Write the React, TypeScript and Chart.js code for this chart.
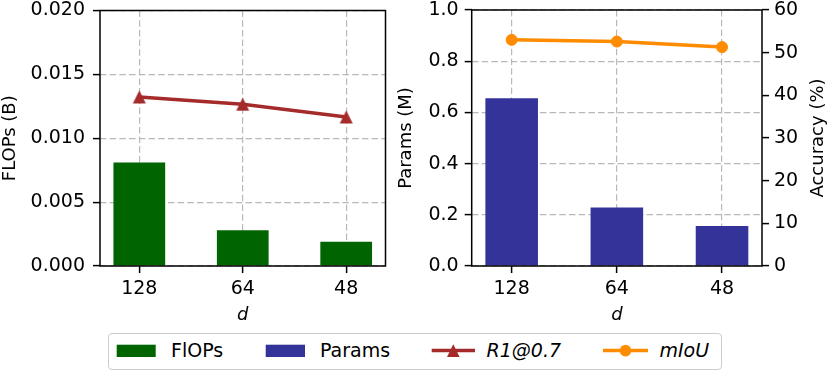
import React, { useEffect, useRef } from 'react';
import { Chart, registerables } from 'chart.js';

Chart.register(...registerables);

// ---- data ----
const categories = ['128', '64', '48'];
const flopsValues = [0.0081, 0.0028, 0.0019];
const paramsValues = [0.655, 0.229, 0.156];
const r1Values = [39.7, 38.0, 35.0];
const miouValues = [53.0, 52.6, 51.3];
const flopsTicks = [0, 0.005, 0.01, 0.015, 0.02];
const paramsTicks = [0, 0.2, 0.4, 0.6, 0.8, 1.0];
const accTicks = [0, 10, 20, 30, 40, 50, 60];

const GREEN = '#006400';
const BLUE = '#333399';
const RED = '#a52a2a';
const ORANGE = '#ff8c00';
const GRID = '#b9b9b9';
const FONT = "'DejaVu Sans', sans-serif";
const TICK_SIZE = 19;
const TITLE_SIZE = 18;
const DASH = [6.5, 3.2];

function makeTriangle(color: string): HTMLCanvasElement {
  const c = document.createElement('canvas');
  const s = 15;
  c.width = s;
  c.height = s;
  const g = c.getContext('2d')!;
  g.fillStyle = color;
  g.beginPath();
  g.moveTo(s / 2, 1);
  g.lineTo(s - 1, s - 1);
  g.lineTo(1, s - 1);
  g.closePath();
  g.fill();
  return c;
}

const framePlugin = {
  id: 'frame',
  afterDatasetsDraw(chart: any) {
    const { ctx, chartArea: a } = chart;
    ctx.save();
    ctx.strokeStyle = '#000';
    ctx.lineWidth = 1.5;
    ctx.strokeRect(a.left, a.top, a.right - a.left, a.bottom - a.top);
    ctx.restore();
  },
};

const rightTitlePlugin = {
  id: 'rightTitle',
  afterDraw(chart: any) {
    const { ctx, chartArea: a } = chart;
    ctx.save();
    ctx.fillStyle = '#000';
    ctx.font = `${TITLE_SIZE}px ${FONT}`;
    ctx.textAlign = 'center';
    ctx.textBaseline = 'middle';
    ctx.translate(chart.width - 13, (a.top + a.bottom) / 2);
    ctx.rotate(-Math.PI / 2);
    ctx.fillText('Accuracy (%)', 0, 0);
    ctx.restore();
  },
};

function xScale() {
  return {
    type: 'linear' as const,
    min: -0.38,
    max: 2.38,
    offset: false,
    afterBuildTicks: (s: any) => {
      s.ticks = categories.map((_, i) => ({ value: i }));
    },
    afterFit: (s: any) => {
      s.height = 64;
      s.paddingLeft = 0;
      s.paddingRight = 0;
    },
    ticks: {
      callback: (v: any) => categories[v] ?? '',
      font: { size: TICK_SIZE, family: FONT },
      color: '#000',
      padding: 5,
      maxRotation: 0,
      autoSkip: false,
    },
    grid: {
      offset: false,
      color: GRID,
      lineWidth: 1.2,
      borderDash: DASH,
      tickLength: 7,
      tickColor: '#000',
      tickWidth: 1.5,
      tickBorderDash: [],
    },
    border: { display: false, dash: DASH },
    title: {
      display: true,
      text: 'd',
      font: { size: TITLE_SIZE, family: FONT, style: 'italic' as const },
      color: '#000',
      padding: { top: 0, bottom: 4 },
    },
  };
}

function yScale(
  ticksArr: number[],
  decimals: number,
  width: number,
  pad: number,
  title: string,
  position: 'left' | 'right',
  showGrid: boolean,
  showTitle: boolean
) {
  return {
    type: 'linear' as const,
    position,
    min: ticksArr[0],
    max: ticksArr[ticksArr.length - 1],
    afterBuildTicks: (s: any) => {
      s.ticks = ticksArr.map((v) => ({ value: v }));
    },
    afterFit: (s: any) => {
      s.width = width;
      s.paddingTop = 0;
      s.paddingBottom = 0;
    },
    ticks: {
      callback: (v: any) => Number(v).toFixed(decimals),
      font: { size: TICK_SIZE, family: FONT, lineHeight: 1 },
      color: '#000',
      padding: pad,
    },
    grid: {
      display: true,
      drawOnChartArea: showGrid,
      color: GRID,
      lineWidth: 1.2,
      borderDash: DASH,
      tickLength: 7,
      tickColor: '#000',
      tickWidth: 1.5,
      tickBorderDash: [],
    },
    border: { display: false, dash: DASH },
    title: {
      display: showTitle,
      text: title,
      font: { size: TITLE_SIZE, family: FONT },
      color: '#000',
      padding: { top: 0, bottom: 0 },
    },
  };
}

function toXY(vals: number[]) {
  return vals.map((v, i) => ({ x: i, y: v }));
}

export default function App() {
  const leftRef = useRef<HTMLCanvasElement>(null);
  const rightRef = useRef<HTMLCanvasElement>(null);

  useEffect(() => {
    Chart.defaults.font.family = FONT;
    const tri = makeTriangle(RED);

    const left = new Chart(leftRef.current!, {
      type: 'bar',
      data: {
        datasets: [
          {
            type: 'line',
            label: 'R1@0.7',
            data: toXY(r1Values),
            yAxisID: 'yAcc',
            borderColor: RED,
            backgroundColor: RED,
            borderWidth: 3.5,
            pointStyle: tri as any,
            pointRadius: 7,
            order: 1,
          } as any,
          {
            type: 'bar',
            label: 'FlOPs',
            data: toXY(flopsValues),
            yAxisID: 'y',
            backgroundColor: GREEN,
            borderWidth: 0,
            barPercentage: 0.5,
            categoryPercentage: 1,
            order: 2,
          } as any,
        ],
      },
      options: {
        animation: false,
        responsive: false,
        maintainAspectRatio: false,
        layout: { padding: { top: 10, right: 6, bottom: 0, left: 0 } },
        plugins: { legend: { display: false }, tooltip: { enabled: false } },
        scales: {
          x: xScale(),
          y: yScale(flopsTicks, 3, 100, 8, 'FLOPs (B)', 'left', true, true),
          yAcc: { type: 'linear', display: false, min: 0, max: 60 },
        } as any,
      },
      plugins: [framePlugin],
    });

    const right = new Chart(rightRef.current!, {
      type: 'bar',
      data: {
        datasets: [
          {
            type: 'line',
            label: 'mIoU',
            data: toXY(miouValues),
            yAxisID: 'yAcc',
            borderColor: ORANGE,
            backgroundColor: ORANGE,
            borderWidth: 3.5,
            pointStyle: 'circle',
            pointRadius: 5.5,
            pointBorderWidth: 1,
            order: 1,
          } as any,
          {
            type: 'bar',
            label: 'Params',
            data: toXY(paramsValues),
            yAxisID: 'y',
            backgroundColor: BLUE,
            borderWidth: 0,
            barPercentage: 0.5,
            categoryPercentage: 1,
            order: 2,
          } as any,
        ],
      },
      options: {
        animation: false,
        responsive: false,
        maintainAspectRatio: false,
        layout: { padding: { top: 10, right: 0, bottom: 0, left: 0 } },
        plugins: { legend: { display: false }, tooltip: { enabled: false } },
        scales: {
          x: xScale(),
          y: yScale(paramsTicks, 1, 75.7, 6, 'Params (M)', 'left', true, true),
          yAcc: yScale(accTicks, 0, 69, 5, 'Accuracy (%)', 'right', false, false),
        } as any,
      },
      plugins: [framePlugin, rightTitlePlugin],
    });

    return () => {
      left.destroy();
      right.destroy();
    };
  }, []);

  const legendText: React.CSSProperties = {
    position: 'absolute',
    top: 5.3,
    height: 22,
    lineHeight: '22px',
    fontSize: 19,
    fontFamily: FONT,
    color: '#000',
    whiteSpace: 'nowrap',
  };
  const triPts = (cx: number, cy: number, r: number) =>
    `${cx},${cy - r} ${cx + r},${cy + r} ${cx - r},${cy + r}`;

  return (
    <div style={{ position: 'absolute', left: 0, top: 0, width: 831, height: 379, background: '#fff' }}>
      <canvas ref={leftRef} width={396} height={330} style={{ position: 'absolute', left: 0, top: 0, width: 396, height: 330 }} />
      <canvas ref={rightRef} width={435} height={330} style={{ position: 'absolute', left: 396, top: 0, width: 435, height: 330 }} />
      <div
        style={{
          position: 'absolute',
          left: 108,
          top: 333,
          width: 614,
          height: 37,
          boxSizing: 'border-box',
          border: '1px solid #cccccc',
          borderRadius: 4,
          background: '#fff',
        }}
      >
        <svg width={612} height={35} style={{ position: 'absolute', left: 0, top: 0 }}>
          <rect x={7.7} y={10.7} width={39} height={12.3} fill={GREEN} />
          <rect x={156.7} y={10.7} width={39.3} height={12.3} fill={BLUE} />
          <line x1={322.7} y1={16.6} x2={366} y2={16.6} stroke={RED} strokeWidth={3.5} />
          <polygon points={triPts(344.3, 16.6, 6.3)} fill={RED} />
          <line x1={494} y1={16.6} x2={539} y2={16.6} stroke={ORANGE} strokeWidth={3.5} />
          <circle cx={516.5} cy={16.6} r={5.8} fill={ORANGE} />
        </svg>
        <span style={{ ...legendText, left: 62 }}>FlOPs</span>
        <span style={{ ...legendText, left: 211 }}>Params</span>
        <span style={{ ...legendText, left: 377.5, fontStyle: 'italic' }}>R1@0.7</span>
        <span style={{ ...legendText, left: 550.5, fontStyle: 'italic' }}>mIoU</span>
      </div>
    </div>
  );
}
